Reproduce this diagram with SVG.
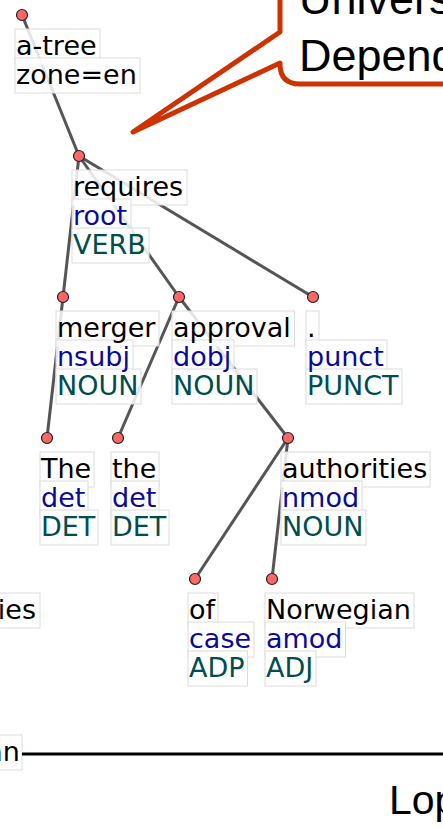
<svg xmlns="http://www.w3.org/2000/svg" width="443" height="828" viewBox="0 0 443 828">
<style>
.e{stroke:#555;stroke-width:3;fill:none}
.n{fill:#f66;stroke:#222;stroke-width:1.2}
.b{fill:#fff;fill-opacity:0.85;stroke:#dcdcdc;stroke-width:1}
.t{font-family:"DejaVu Sans",sans-serif;font-size:27px}
.f{fill:#000}
.d{fill:#0a0a9a}
.u{fill:#004d50}
.c{font-family:"Liberation Sans",Arial,sans-serif;fill:#000}
</style>
<rect x="0" y="0" width="443" height="828" fill="#fff"/>
<g id="edges">
<line class="e" x1="22" y1="15" x2="79" y2="156"/>
<line class="e" x1="79" y1="156" x2="63" y2="297"/>
<line class="e" x1="79" y1="156" x2="179" y2="297"/>
<line class="e" x1="79" y1="156" x2="313" y2="297"/>
<line class="e" x1="63" y1="297" x2="47" y2="438"/>
<line class="e" x1="179" y1="297" x2="118" y2="438"/>
<line class="e" x1="179" y1="297" x2="288" y2="438"/>
<line class="e" x1="288" y1="438" x2="195" y2="579"/>
<line class="e" x1="288" y1="438" x2="272" y2="579"/>
</g>
<g id="n-root">
<circle class="n" cx="22" cy="15" r="5.5"/>
<rect class="b" x="15" y="29" width="85" height="35"/>
<rect class="b" x="15" y="58" width="125" height="35"/>
<text class="t f" x="16" y="55">a-tree</text>
<text class="t f" x="16" y="84">zone=en</text>
</g>
<g id="n-requires">
<circle class="n" cx="79" cy="156" r="5.5"/>
<rect class="b" x="72" y="170" width="115" height="35"/>
<rect class="b" x="72" y="199" width="59" height="35"/>
<rect class="b" x="72" y="228" width="77" height="35"/>
<text class="t f" x="73" y="196">requires</text>
<text class="t d" x="73" y="225">root</text>
<text class="t u" x="73" y="254">VERB</text>
</g>
<g id="n-merger">
<circle class="n" cx="63" cy="297" r="5.5"/>
<rect class="b" x="56" y="311" width="103" height="35"/>
<rect class="b" x="56" y="340" width="77" height="35"/>
<rect class="b" x="56" y="369" width="85" height="35"/>
<text class="t f" x="57" y="337">merger</text>
<text class="t d" x="57" y="366">nsubj</text>
<text class="t u" x="57" y="395">NOUN</text>
</g>
<g id="n-approval">
<circle class="n" cx="179" cy="297" r="5.5"/>
<rect class="b" x="172" y="311" width="122.5" height="35"/>
<rect class="b" x="172" y="340" width="62" height="35"/>
<rect class="b" x="172" y="369" width="85" height="35"/>
<text class="t f" x="173" y="337">approval</text>
<text class="t d" x="173" y="366">dobj</text>
<text class="t u" x="173" y="395">NOUN</text>
</g>
<g id="n-punct">
<circle class="n" cx="313" cy="297" r="5.5"/>
<rect class="b" x="306" y="311" width="13" height="35"/>
<rect class="b" x="306" y="340" width="81" height="35"/>
<rect class="b" x="306" y="369" width="96" height="35"/>
<text class="t f" x="307" y="337">.</text>
<text class="t d" x="307" y="366">punct</text>
<text class="t u" x="307" y="395">PUNCT</text>
</g>
<g id="n-The">
<circle class="n" cx="47" cy="438" r="5.5"/>
<rect class="b" x="40" y="452" width="54" height="35"/>
<rect class="b" x="40" y="481" width="48" height="35"/>
<rect class="b" x="40" y="510" width="58" height="35"/>
<text class="t f" x="41" y="478">The</text>
<text class="t d" x="41" y="507">det</text>
<text class="t u" x="41" y="536">DET</text>
</g>
<g id="n-the">
<circle class="n" cx="118" cy="438" r="5.5"/>
<rect class="b" x="111" y="452" width="48" height="35"/>
<rect class="b" x="111" y="481" width="48" height="35"/>
<rect class="b" x="111" y="510" width="58" height="35"/>
<text class="t f" x="112" y="478">the</text>
<text class="t d" x="112" y="507">det</text>
<text class="t u" x="112" y="536">DET</text>
</g>
<g id="n-authorities">
<circle class="n" cx="288" cy="438" r="5.5"/>
<rect class="b" x="281" y="452" width="149" height="35"/>
<rect class="b" x="281" y="481" width="81" height="35"/>
<rect class="b" x="281" y="510" width="85" height="35"/>
<text class="t f" x="282" y="478">authorities</text>
<text class="t d" x="282" y="507">nmod</text>
<text class="t u" x="282" y="536">NOUN</text>
</g>
<g id="n-of">
<circle class="n" cx="195" cy="579" r="5.5"/>
<rect class="b" x="188" y="593" width="30" height="35"/>
<rect class="b" x="188" y="622" width="66" height="35"/>
<rect class="b" x="188" y="651" width="59.5" height="35"/>
<text class="t f" x="189" y="619">of</text>
<text class="t d" x="189" y="648">case</text>
<text class="t u" x="189" y="677">ADP</text>
</g>
<g id="n-Norwegian">
<circle class="n" cx="272" cy="579" r="5.5"/>
<rect class="b" x="265" y="593" width="149" height="35"/>
<rect class="b" x="265" y="622" width="80.5" height="35"/>
<rect class="b" x="265" y="651" width="51" height="35"/>
<text class="t f" x="266" y="619">Norwegian</text>
<text class="t d" x="266" y="648">amod</text>
<text class="t u" x="266" y="677">ADJ</text>
</g>
<g id="n-left-ies">
<rect class="b" x="-5" y="593" width="45" height="35"/>
<text class="t f" x="36" y="619" text-anchor="end">ies</text>
</g>
<g id="n-left-an">
<rect class="b" x="-5" y="735" width="27" height="35"/>
<text class="t f" x="20" y="761" text-anchor="end">an</text>
</g>
<g id="rule">
<line x1="22" y1="754" x2="450" y2="754" stroke="#000" stroke-width="3"/>
<text class="c" x="389" y="814" font-size="41">Lop</text>
</g>
<g id="callout">
<path d="M280,-10 L280,32 L133,132 L280,63 L280,64 Q280,84 300,84 L450,84" fill="#fff" stroke="#cc3300" stroke-width="5" stroke-linejoin="round" stroke-linecap="round"/>
<text class="c" x="299" y="14" font-size="45">Univers</text>
<text class="c" x="299" y="71" font-size="45">Depend</text>
</g>
</svg>
